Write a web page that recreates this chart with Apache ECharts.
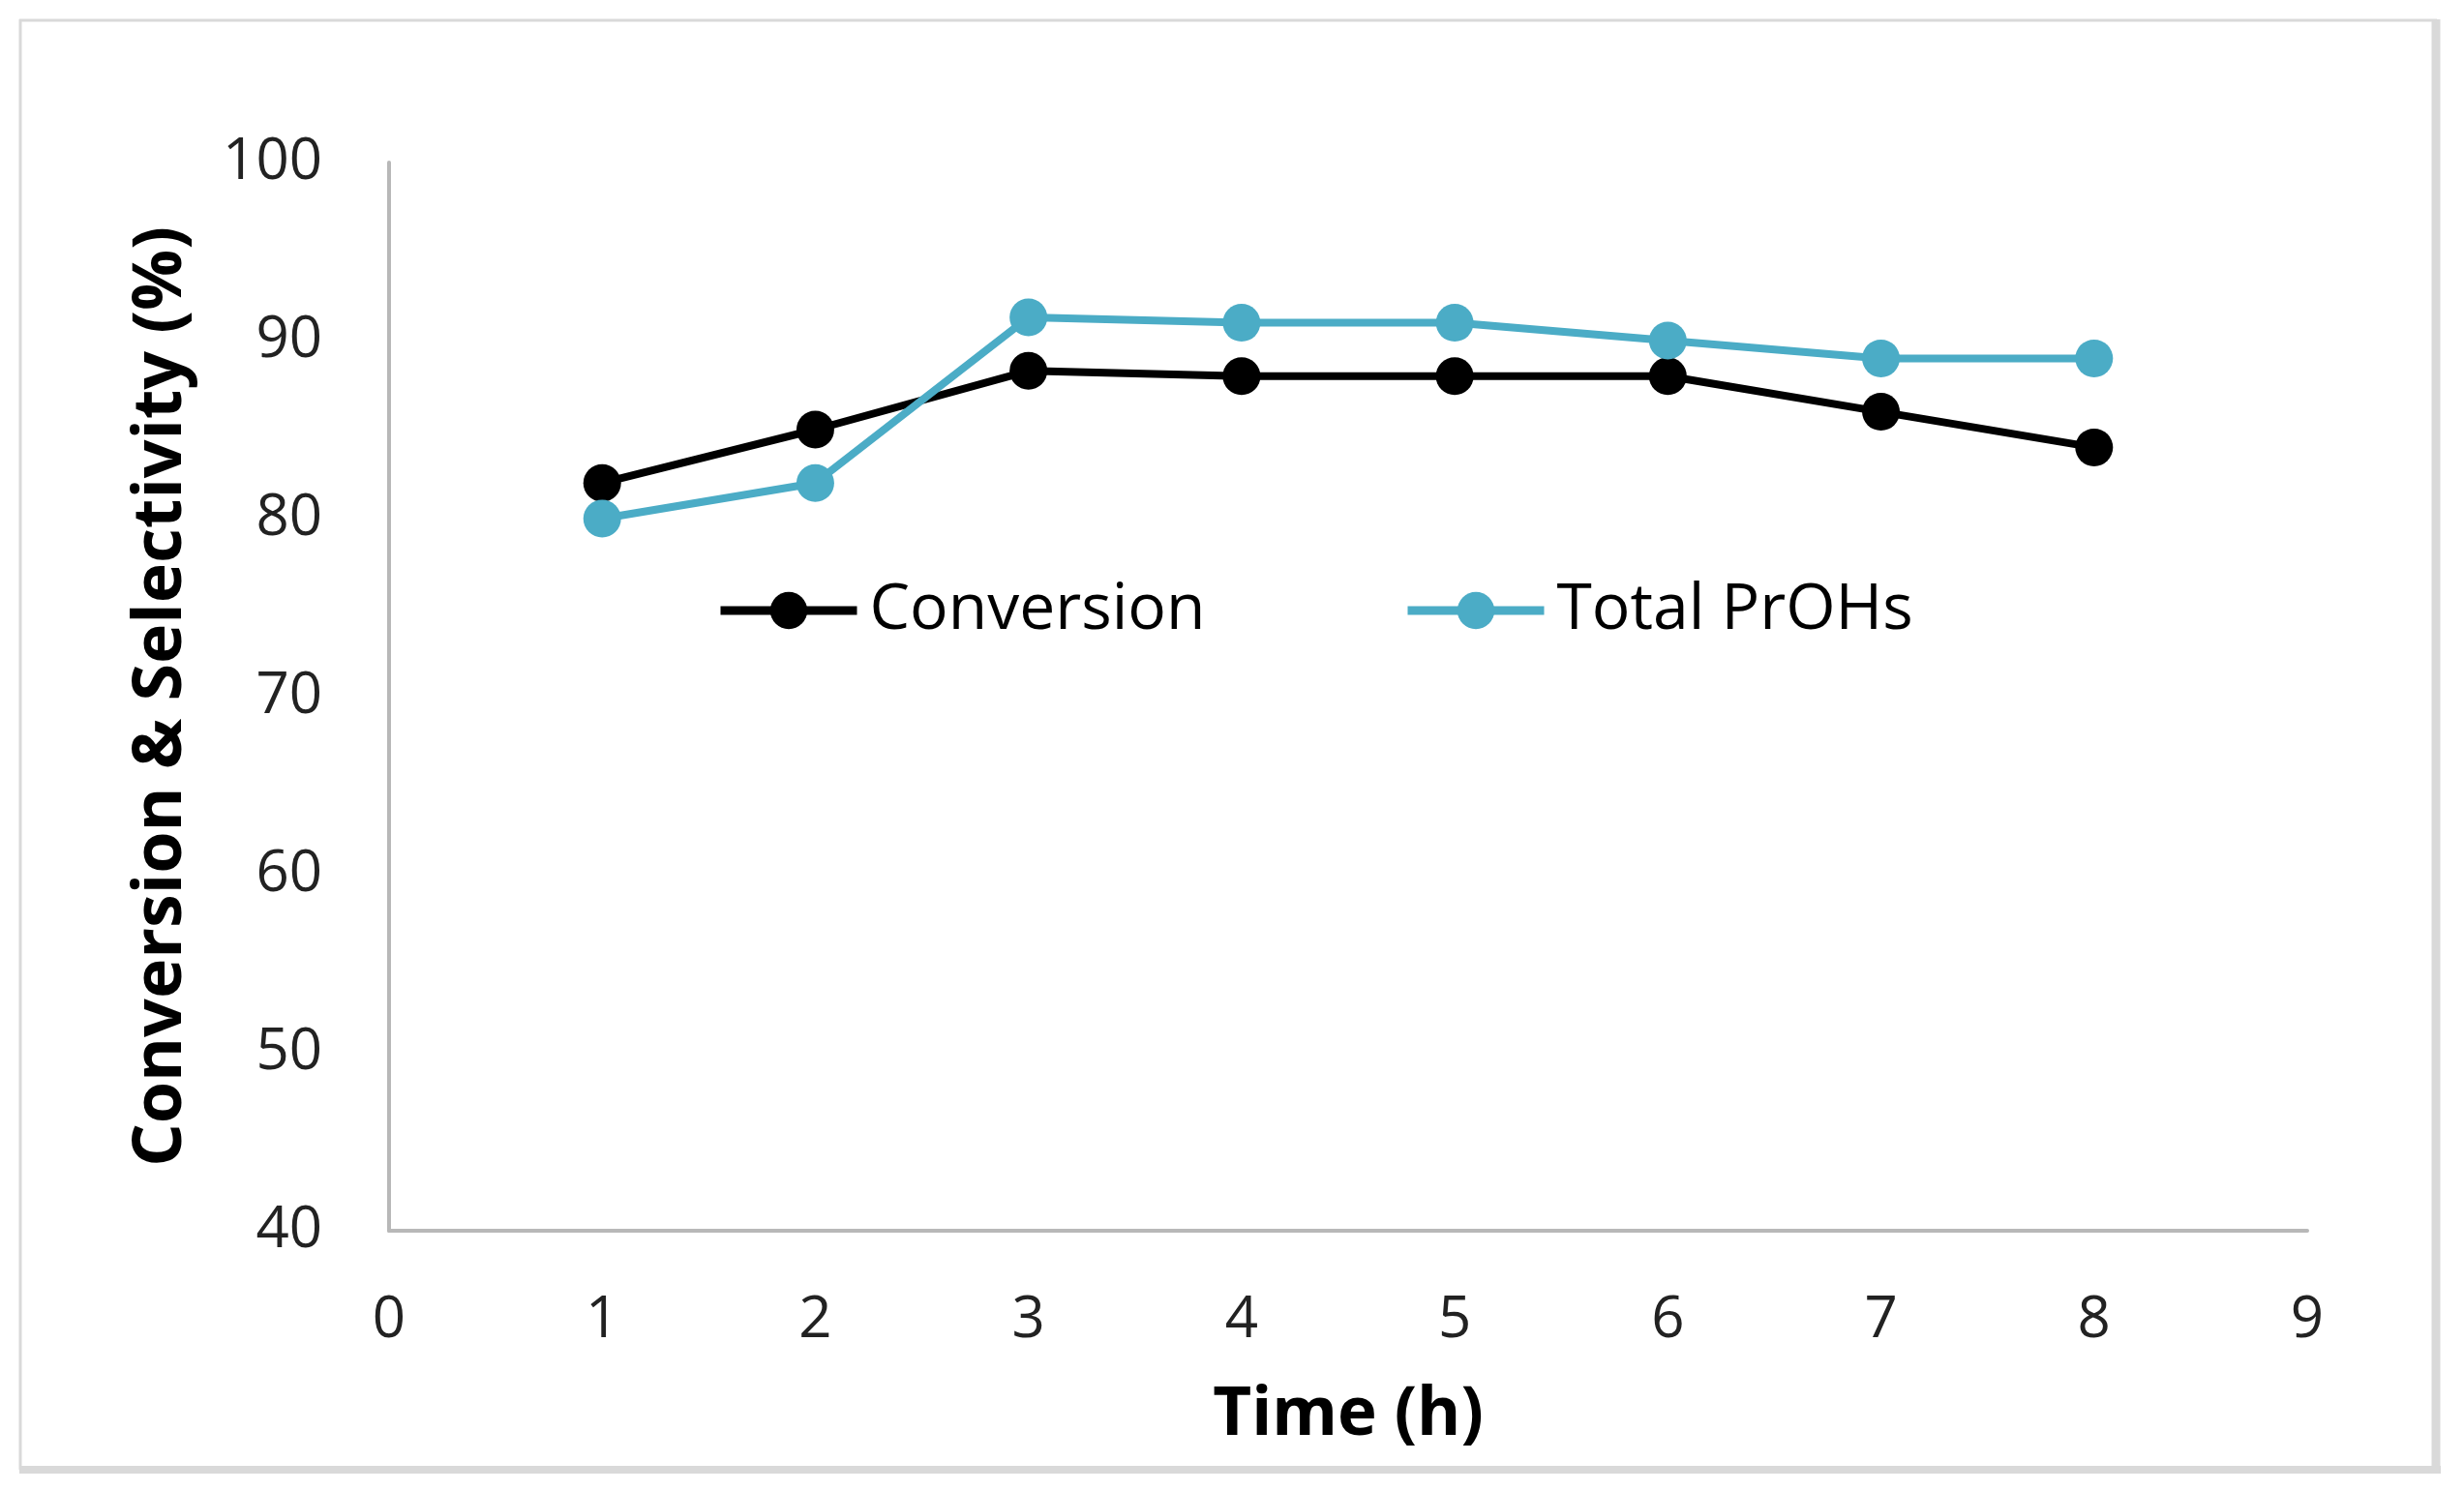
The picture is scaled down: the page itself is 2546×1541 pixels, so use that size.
<!DOCTYPE html>
<html>
<head>
<meta charset="utf-8">
<title>Conversion & Selectivity</title>
<script src="https://cdn.jsdelivr.net/npm/echarts@6/dist/echarts.min.js"></script>
<style>
  html, body { margin: 0; padding: 0; background: #fff; }
  #main { width: 2546px; height: 1541px; }
</style>
</head>
<body>
<div id="main"></div>
<script>
// data
var timeH = [1, 2, 3, 4, 5, 6, 7, 8];
var conversion = [82, 85, 88.3, 88, 88, 88, 86, 84];
var totalPrOHs = [80, 82, 91.3, 91, 91, 90, 89, 89];
var xTicks = [0, 9, 1];    // min, max, interval
var yTicks = [40, 100, 10];

function pairs(xs, ys){
    var out = [];
    for (var i = 0; i < xs.length; i++) {
        out.push([xs[i], ys[i]]);
    }
    return out;
}

var font = '"Open Sans", "Noto Sans", sans-serif';
var axisGray = '#b8b8b8';

var myChart = echarts.init(document.getElementById('main'));

var option = {
    animation: false,
    backgroundColor: '#fff',
    graphic: [
        // outer frame, thin top/left, heavier right/bottom
        { type: 'line', shape: { x1: 20, y1: 21, x2: 2518, y2: 21 }, style: { stroke: '#d9d9d9', lineWidth: 3 } },
        { type: 'line', shape: { x1: 21, y1: 20, x2: 21, y2: 1519 }, style: { stroke: '#d9d9d9', lineWidth: 3 } },
        { type: 'line', shape: { x1: 2517, y1: 20, x2: 2517, y2: 1523 }, style: { stroke: '#d9d9d9', lineWidth: 9 } },
        { type: 'line', shape: { x1: 20, y1: 1519, x2: 2522, y2: 1519 }, style: { stroke: '#d9d9d9', lineWidth: 8 } }
    ],
    grid: {
        left: 402,
        right: 162,
        top: 168,
        bottom: 269,
        containLabel: false
    },
    legend: [
        {
            data: ['Conversion'],
            left: 740,
            top: 598,
            padding: 0,
            itemWidth: 141,
            itemHeight: 48,
            lineStyle: { width: 9 },
            textStyle: { fontFamily: font, fontSize: 66, color: '#000', padding: [0, 0, 0, 8] }
        },
        {
            data: ['Total PrOHs'],
            left: 1450,
            top: 598,
            padding: 0,
            itemWidth: 141,
            itemHeight: 48,
            lineStyle: { width: 9 },
            textStyle: { fontFamily: font, fontSize: 66, color: '#000', padding: [0, 0, 0, 8] }
        }
    ],
    xAxis: {
        type: 'value',
        min: xTicks[0],
        max: xTicks[1],
        interval: xTicks[2],
        name: 'Time (h)',
        nameLocation: 'middle',
        nameGap: 157,
        nameTextStyle: { fontFamily: font, fontSize: 69, fontWeight: 'bold', color: '#000' },
        axisLine: { show: true, onZero: false, lineStyle: { color: axisGray, width: 4 } },
        axisTick: { show: false },
        splitLine: { show: false },
        axisLabel: { fontFamily: font, fontSize: 60, color: '#222', margin: 63 }
    },
    yAxis: {
        type: 'value',
        min: yTicks[0],
        max: yTicks[1],
        interval: yTicks[2],
        name: 'Conversion & Selectivity (%)',
        nameLocation: 'middle',
        nameGap: 200,
        nameTextStyle: { fontFamily: font, fontSize: 70, fontWeight: 'bold', color: '#000' },
        axisLine: { show: true, lineStyle: { color: axisGray, width: 4 } },
        axisTick: { show: false },
        splitLine: { show: false },
        axisLabel: { fontFamily: font, fontSize: 60, color: '#222', margin: 69 }
    },
    series: [
        {
            name: 'Conversion',
            type: 'line',
            data: pairs(timeH, conversion),
            symbol: 'circle',
            symbolSize: 39,
            itemStyle: { color: '#000000' },
            lineStyle: { color: '#000000', width: 8 }
        },
        {
            name: 'Total PrOHs',
            type: 'line',
            data: pairs(timeH, totalPrOHs),
            symbol: 'circle',
            symbolSize: 39,
            itemStyle: { color: '#4bacc6' },
            lineStyle: { color: '#4bacc6', width: 8 }
        }
    ]
};

myChart.setOption(option);
</script>
</body>
</html>
